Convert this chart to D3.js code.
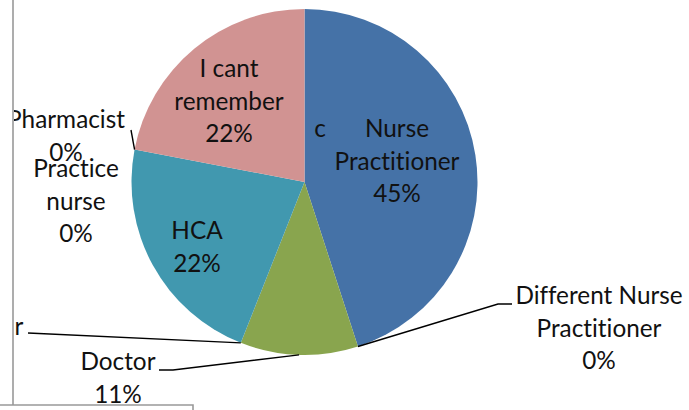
<!DOCTYPE html>
<html><head><meta charset="utf-8">
<script src="https://cdn.jsdelivr.net/npm/d3@7"></script>
<style>html,body{margin:0;padding:0;background:#fff;overflow:hidden} text{font-variant-ligatures:none;font-feature-settings:"liga" 0,"clig" 0}</style>
</head><body>
<svg id="chart" width="689" height="410"></svg>
<script>
const categories = ["Nurse Practitioner","Different Nurse Practitioner","Doctor","r","HCA","Practice nurse","Pharmacist","I cant remember","c"];
const values = [45,0,11,0,22,0,0,22,0];
const colors = ["#4572A7","#AA4643","#89A54E","#71588F","#4198AF","#DB843D","#93A9CF","#D19392","#A47D7C"];
const labelLines = [["Nurse","Practitioner"],["Different Nurse","Practitioner"],["Doctor"],["r"],["HCA"],["Practice","nurse"],["Pharmacist"],["I cant","remember"],["c"]];
const showPct = [true,true,true,false,true,true,true,true,false];

// layout (label anchor: centre x, first baseline y) and leader elbows
const labelPos = [[397,137],[599,304],[118,370],[19,335],[197,239],[76,177],[66,128],[229,77],[320,137]];
const leaders = {1:[[498,304],[512,304]], 2:[[173,370],[159,370]], 3:[[28,333]], 6:[[131,130]]};

const svg = d3.select("#chart");
const cx = 304.5, cy = 182, R = 173;
const total = d3.sum(values);

svg.append("defs").append("clipPath").attr("id","area")
  .append("rect").attr("x",14).attr("y",0).attr("width",675).attr("height",404);

const g = svg.append("g").attr("clip-path","url(#area)");
const pie = d3.pie().sort(null).value(d=>d)(values);
const arc = d3.arc().innerRadius(0).outerRadius(R);

g.append("g").attr("transform",`translate(${cx},${cy})`)
  .selectAll("path").data(pie).join("path")
  .attr("d",arc).attr("fill",(d,i)=>colors[i]);

const probe = svg.append("text").attr("font-family","Lato").attr("font-size",100).text("Practitioner");
const w = probe.node().getComputedTextLength(); probe.remove();
const fs = 100*125/w;

function pt(a, r){ return [cx + r*Math.sin(a), cy - r*Math.cos(a)]; }

Object.keys(leaders).forEach(k=>{
  const d = pie[+k];
  const a = (d.startAngle + d.endAngle)/2;
  const pts = [pt(a,R)].concat(leaders[k]);
  g.append("path").attr("d", d3.line()(pts)).attr("fill","none")
    .attr("stroke","#000").attr("stroke-width",1.4);
});

const fmt = d3.format(".0%");
categories.forEach((c,i)=>{
  const lines = labelLines[i].slice();
  if (showPct[i]) lines.push(fmt(values[i]/total));
  const t = g.append("text").attr("font-family","Lato").attr("font-size",fs)
    .attr("fill","#111").attr("text-anchor","middle");
  lines.forEach((l,j)=>{
    t.append("tspan").attr("x",labelPos[i][0]).attr("y",labelPos[i][1]+j*32.5).text(l);
  });
});

svg.append("path").attr("d","M13,0 L13,405 M0,405 L193,405 L193,410")
  .attr("fill","none").attr("stroke","#999").attr("stroke-width",1.6);
</script>
</body></html>
